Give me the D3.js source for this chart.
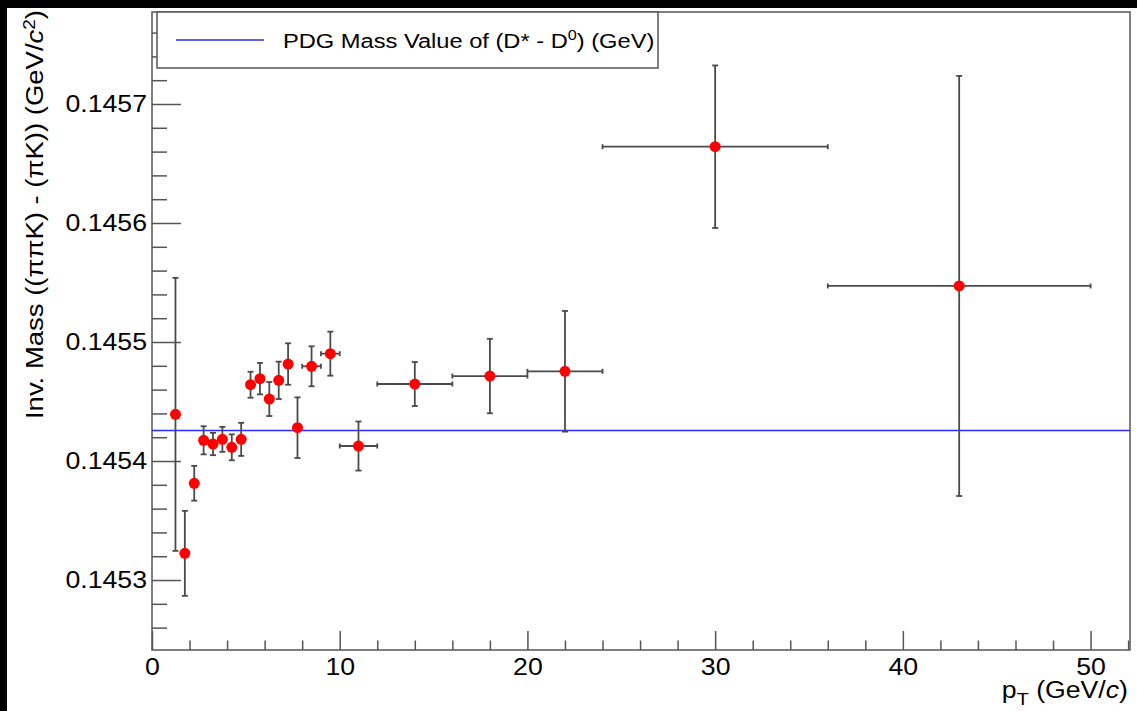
<!DOCTYPE html>
<html>
<head>
<meta charset="utf-8">
<script src="https://cdn.jsdelivr.net/npm/d3@7"></script>
<style>
  body { margin: 0; background: #000; }
  svg { display: block; }
</style>
</head>
<body>
<script>
// pT bin centres, half widths, fitted mass difference and its error
const ptCenter = [1.25, 1.75, 2.25, 2.75, 3.25, 3.75, 4.25, 4.75, 5.25, 5.75, 6.25, 6.75, 7.25, 7.75, 8.5, 9.5, 11, 14, 18, 22, 30, 43]
const ptHalf = [0.25, 0.25, 0.25, 0.25, 0.25, 0.25, 0.25, 0.25, 0.25, 0.25, 0.25, 0.25, 0.25, 0.25, 0.5, 0.5, 1, 2, 2, 2, 6, 7]
const massVal = [0.1454392, 0.1453224, 0.1453813, 0.1454174, 0.1454143, 0.1454182, 0.1454115, 0.1454182, 0.1454641, 0.1454692, 0.1454521, 0.1454678, 0.1454815, 0.1454280, 0.1454796, 0.1454902, 0.1454126, 0.1454647, 0.1454714, 0.1454754, 0.1456641, 0.1455471]
const massErr = [0.0001147, 0.0000357, 0.0000146, 0.0000118, 0.0000094, 0.0000105, 0.0000109, 0.0000139, 0.0000109, 0.0000132, 0.0000143, 0.0000157, 0.0000174, 0.0000255, 0.0000168, 0.0000185, 0.0000206, 0.0000185, 0.0000313, 0.0000507, 0.0000683, 0.0001765]
const pdgMass = 0.1454257

const xMajor = [0, 10, 20, 30, 40, 50]
const xMinor = [2, 4, 6, 8, 12, 14, 16, 18, 22, 24, 26, 28, 32, 34, 36, 38, 42, 44, 46, 48, 52]
const yMajor = [0.1453, 0.1454, 0.1455, 0.1456, 0.1457]
const yMinor = [0.14526, 0.14528, 0.14532, 0.14534, 0.14536, 0.14538, 0.14542, 0.14544, 0.14546, 0.14548,
  0.14552, 0.14554, 0.14556, 0.14558, 0.14562, 0.14564, 0.14566, 0.14568, 0.14572, 0.14574, 0.14576]

const width = 1137
const height = 711
const S = 1.16 // text in the picture is stretched sideways
const font = '"Liberation Sans", Arial, Helvetica, sans-serif'
const frame = { left: 152, right: 1130, top: 12, bottom: 650 }
const axisColor = '#555'

const data = ptCenter.map((pt, i) => ({ pt, dx: ptHalf[i], m: massVal[i], dm: massErr[i] }))

const svg = d3.select('body')
  .append('svg')
  .attr('width', width)
  .attr('height', height)

svg.append('rect').attr('width', width).attr('height', height).attr('fill', '#000')
svg.append('rect').attr('x', 7).attr('y', 8).attr('width', width - 7).attr('height', height - 8).attr('fill', '#fff')

const x = d3.scaleLinear().domain([0, 52.1]).range([frame.left, frame.right])
const y = d3.scaleLinear().domain([0.1452412, 0.1457773]).range([frame.bottom, frame.top])

// axes, ticks pointing into the frame
const styleAxis = (g) => {
  g.select('.domain').remove()
  g.selectAll('line').attr('stroke', axisColor).attr('stroke-width', 1.5)
  g.selectAll('text').attr('fill', '#000').attr('font-size', 23).attr('font-family', font)
}

svg.append('g')
  .attr('transform', `translate(0,${frame.bottom})`)
  .call(d3.axisBottom(x).tickValues(xMinor).tickSizeInner(-9.5).tickSizeOuter(0).tickFormat(''))
  .call(styleAxis)

svg.append('g')
  .attr('transform', `translate(0,${frame.bottom})`)
  .call(d3.axisBottom(x).tickValues(xMajor).tickSizeInner(-19).tickSizeOuter(0).tickPadding(9).tickFormat(d3.format('d')))
  .call(styleAxis)
  .call(g => g.selectAll('text').attr('transform', `scale(${S},1)`))

svg.append('g')
  .attr('transform', `translate(${frame.left},0)`)
  .call(d3.axisLeft(y).tickValues(yMinor).tickSizeInner(-15).tickSizeOuter(0).tickFormat(''))
  .call(styleAxis)

svg.append('g')
  .attr('transform', `translate(${frame.left},0)`)
  .call(d3.axisLeft(y).tickValues(yMajor).tickSizeInner(-29).tickSizeOuter(0).tickPadding(5).tickFormat(d3.format('.4f')))
  .call(styleAxis)
  .call(g => g.selectAll('text').attr('x', -5 / S).attr('transform', `scale(${S},1)`))

// frame
svg.append('rect')
  .attr('x', frame.left).attr('y', frame.top)
  .attr('width', frame.right - frame.left).attr('height', frame.bottom - frame.top)
  .attr('fill', 'none').attr('stroke', axisColor).attr('stroke-width', 1.5)

// PDG value
svg.append('line')
  .attr('x1', frame.left).attr('x2', frame.right)
  .attr('y1', y(pdgMass)).attr('y2', y(pdgMass))
  .attr('stroke', '#2b2bff').attr('stroke-width', 1.4)

// error bars
const bars = svg.append('g')
  .attr('class', 'errors')
  .attr('stroke', '#4a4a4a')
  .attr('stroke-width', 1.8)
  .selectAll('g')
  .data(data)
  .enter()
  .append('g')

bars.append('line')
  .attr('x1', d => x(d.pt)).attr('x2', d => x(d.pt))
  .attr('y1', d => y(d.m - d.dm)).attr('y2', d => y(d.m + d.dm))
bars.append('line')
  .attr('x1', d => x(d.pt) - 3).attr('x2', d => x(d.pt) + 3)
  .attr('y1', d => y(d.m + d.dm)).attr('y2', d => y(d.m + d.dm))
bars.append('line')
  .attr('x1', d => x(d.pt) - 3).attr('x2', d => x(d.pt) + 3)
  .attr('y1', d => y(d.m - d.dm)).attr('y2', d => y(d.m - d.dm))

bars.filter(d => d.dx > 0.3).append('line')
  .attr('x1', d => x(d.pt - d.dx)).attr('x2', d => x(d.pt + d.dx))
  .attr('y1', d => y(d.m)).attr('y2', d => y(d.m))
bars.filter(d => d.dx > 0.3).append('line')
  .attr('x1', d => x(d.pt - d.dx)).attr('x2', d => x(d.pt - d.dx))
  .attr('y1', d => y(d.m) - 2.5).attr('y2', d => y(d.m) + 2.5)
bars.filter(d => d.dx > 0.3).append('line')
  .attr('x1', d => x(d.pt + d.dx)).attr('x2', d => x(d.pt + d.dx))
  .attr('y1', d => y(d.m) - 2.5).attr('y2', d => y(d.m) + 2.5)

// markers
svg.append('g')
  .attr('class', 'points')
  .selectAll('circle')
  .data(data)
  .enter()
  .append('circle')
  .attr('cx', d => x(d.pt))
  .attr('cy', d => y(d.m))
  .attr('r', 5.5)
  .attr('fill', '#ff0000')

// legend
svg.append('rect')
  .attr('x', 157).attr('y', frame.top).attr('width', 501).attr('height', 56)
  .attr('fill', '#fff').attr('stroke', axisColor).attr('stroke-width', 1.5)
svg.append('line')
  .attr('x1', 176).attr('x2', 264).attr('y1', 40).attr('y2', 40)
  .attr('stroke', '#2b2bff').attr('stroke-width', 1.4)
const legendText = svg.append('text')
  .attr('transform', `translate(283,47.5) scale(${S},1)`)
  .attr('font-family', font).attr('font-size', 20.4)
legendText.append('tspan').text('PDG Mass Value of (D* - D')
legendText.append('tspan').attr('dy', -8).attr('font-size', 14).text('0')
legendText.append('tspan').attr('dy', 8).text(') (GeV)')

// axis titles
const xTitle = svg.append('text')
  .attr('transform', `translate(1128,698) scale(${S},1)`)
  .attr('text-anchor', 'end')
  .attr('font-family', font).attr('font-size', 23)
xTitle.append('tspan').text('p')
xTitle.append('tspan').attr('dy', 7).attr('font-size', 17).text('T')
xTitle.append('tspan').attr('dy', -7).text(' (GeV/')
xTitle.append('tspan').attr('font-style', 'italic').text('c')
xTitle.append('tspan').text(')')

const yTitle = svg.append('text')
  .attr('transform', 'translate(43,10) scale(0.88,1) rotate(-90)')
  .attr('text-anchor', 'end')
  .attr('font-family', font).attr('font-size', 27.5)
yTitle.append('tspan').text('Inv. Mass ((ππK) - (πK)) (GeV/')
yTitle.append('tspan').attr('font-style', 'italic').text('c')
yTitle.append('tspan').attr('dy', -9).attr('font-size', 19).text('2')
yTitle.append('tspan').attr('dy', 9).text(')')
</script>
</body>
</html>
